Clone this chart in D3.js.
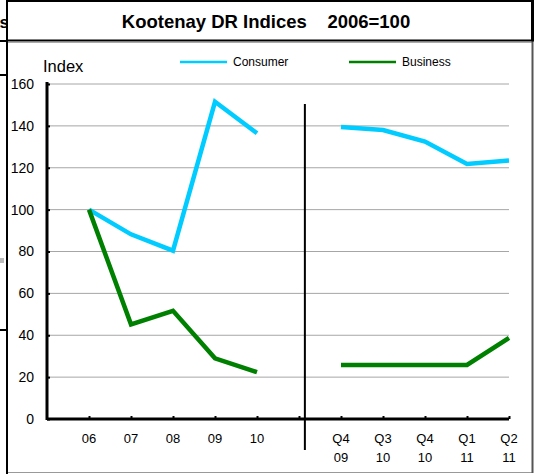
<!DOCTYPE html>
<html>
<head>
<meta charset="utf-8">
<script src="https://cdn.jsdelivr.net/npm/d3@7/dist/d3.min.js"></script>
<style>
  html, body { margin: 0; padding: 0; background: #fff; }
  svg { display: block; font-family: Arial, "Liberation Sans", sans-serif; }
</style>
</head>
<body>
<svg id="chart" width="535" height="474"></svg>
<script>
// Kootenay DR consumer and business indices (2006 = 100)
const categories = ["06", "07", "08", "09", "10", "", "Q4 09", "Q3 10", "Q4 10", "Q1 11", "Q2 11"];
const consumer = [100, 88.2, 80.4, 151.5, 136.5, null, 139.5, 138, 132.5, 121.8, 123.5];
const business = [100, 45.2, 51.7, 29, 22.4, null, 25.8, 25.8, 25.8, 25.8, 38.7];
const yTicks = [0, 20, 40, 60, 80, 100, 120, 140, 160];
const seriesNames = ["Consumer", "Business"];
const seriesColors = ["#00CCFF", "#008000"];

const svg = d3.select("#chart");

// ----- page frame -----
const frame = svg.append("g");
frame.append("defs").append("clipPath").attr("id", "leftClip")
  .append("rect").attr("x", 0).attr("y", 0).attr("width", 6).attr("height", 474);
frame.append("text").attr("clip-path", "url(#leftClip)")
  .attr("x", 9).attr("y", 28).attr("text-anchor", "end")
  .attr("font-size", 17).attr("font-weight", "bold").text("ns");
frame.append("line").attr("x1", 0).attr("x2", 7).attr("y1", 41).attr("y2", 41).attr("stroke", "#000").attr("stroke-width", 2);
frame.append("line").attr("x1", 0).attr("x2", 6).attr("y1", 75).attr("y2", 75).attr("stroke", "#000").attr("stroke-width", 2);
frame.append("rect").attr("x", 0).attr("y", 258).attr("width", 4).attr("height", 5).attr("fill", "#bbb");
frame.append("line").attr("x1", 0).attr("x2", 6).attr("y1", 330).attr("y2", 330).attr("stroke", "#000").attr("stroke-width", 2);

// chart box
frame.append("line").attr("x1", 7).attr("x2", 533).attr("y1", 472.5).attr("y2", 472.5).attr("stroke", "#999").attr("stroke-width", 1);
frame.append("line").attr("x1", 7).attr("x2", 532).attr("y1", 42.5).attr("y2", 42.5).attr("stroke", "#aaa").attr("stroke-width", 1);
frame.append("line").attr("x1", 532.5).attr("x2", 532.5).attr("y1", 41).attr("y2", 473).attr("stroke", "#555").attr("stroke-width", 2);
frame.append("line").attr("x1", 7).attr("x2", 7).attr("y1", 0).attr("y2", 474).attr("stroke", "#000").attr("stroke-width", 2);
// title box
frame.append("line").attr("x1", 6).attr("x2", 534).attr("y1", 1).attr("y2", 1).attr("stroke", "#000").attr("stroke-width", 2);
frame.append("line").attr("x1", 532.5).attr("x2", 532.5).attr("y1", 0).attr("y2", 41).attr("stroke", "#000").attr("stroke-width", 3);
frame.append("line").attr("x1", 6).attr("x2", 534).attr("y1", 40.5).attr("y2", 40.5).attr("stroke", "#000").attr("stroke-width", 2);

frame.append("text").attr("x", 266).attr("y", 28).attr("text-anchor", "middle")
  .attr("font-size", 18.5).attr("font-weight", "bold").attr("xml:space", "preserve")
  .style("white-space", "pre")
  .text("Kootenay DR Indices    2006=100");

// ----- scales -----
const x = d3.scalePoint().domain(d3.range(categories.length)).range([89, 509]);
const step = x.step();
const xLeft = x(0) - step;
const y = d3.scaleLinear().domain([0, 160]).range([419, 84]);

const plot = svg.append("g");

// gridlines
plot.selectAll(".grid").data(yTicks.filter(d => d > 0)).join("line")
  .attr("x1", xLeft).attr("x2", x(categories.length - 1))
  .attr("y1", d => y(d)).attr("y2", d => y(d))
  .attr("stroke", "#a6a6a6").attr("stroke-width", 1);

// y axis
const yAxis = plot.append("g").attr("transform", `translate(${xLeft},0)`)
  .call(d3.axisLeft(y).tickValues(yTicks).tickSize(-3).tickPadding(13).tickFormat(d3.format("d")));
yAxis.select(".domain").remove();
yAxis.selectAll(".tick line").attr("stroke", "#000").attr("stroke-width", 2);
yAxis.selectAll(".tick text").attr("font-size", 14).attr("fill", "#000")
  .attr("font-family", "Arial, 'Liberation Sans', sans-serif");
plot.append("line").attr("x1", xLeft).attr("x2", xLeft).attr("y1", y(160) - 2).attr("y2", y(0) + 1)
  .attr("stroke", "#000").attr("stroke-width", 3);

// x axis
const xAxis = plot.append("g").attr("transform", `translate(0,${y(0)})`)
  .call(d3.axisBottom(x).tickSize(-3).tickFormat(""));
xAxis.select(".domain").remove();
xAxis.selectAll(".tick line").attr("stroke", "#000").attr("stroke-width", 2);
plot.append("line").attr("x1", xLeft).attr("x2", x(categories.length - 1)).attr("y1", y(0)).attr("y2", y(0))
  .attr("stroke", "#000").attr("stroke-width", 3);

// category labels (two lines for quarters)
const labels = plot.selectAll(".xlab").data(categories).join("text")
  .attr("text-anchor", "middle").attr("font-size", 13).attr("fill", "#000");
labels.each(function (d, i) {
  const parts = d.split(" ");
  d3.select(this).selectAll("tspan").data(parts).join("tspan")
    .attr("x", x(i)).attr("y", (p, j) => y(0) + 24 + j * 19).text(p => p);
});

// divider between annual and quarterly sections
const divX = x(5) + step * 0.14;
plot.append("line").attr("x1", divX).attr("x2", divX).attr("y1", y(150.5)).attr("y2", y(0) + 31)
  .attr("stroke", "#000").attr("stroke-width", 2);

// axis title
plot.append("text").attr("x", 43).attr("y", 72).attr("font-size", 16.5).text("Index");

// series lines
const line = d3.line().defined(d => d != null).x((d, i) => x(i)).y(d => y(d));
[consumer, business].forEach((s, k) => {
  plot.append("path").datum(s).attr("d", line)
    .attr("fill", "none").attr("stroke", seriesColors[k]).attr("stroke-width", 4.5)
    .attr("stroke-linejoin", "miter").attr("stroke-linecap", "butt");
});

// legend
const legendX = [180, 349];
seriesNames.forEach((name, k) => {
  const g = svg.append("g").attr("transform", `translate(${legendX[k]},62)`);
  g.append("line").attr("x1", 0).attr("x2", 47).attr("y1", 0).attr("y2", 0)
    .attr("stroke", seriesColors[k]).attr("stroke-width", 2.5);
  g.append("text").attr("x", 53).attr("y", 4).attr("font-size", 12).attr("fill", "#000").text(name);
});
</script>
</body>
</html>
